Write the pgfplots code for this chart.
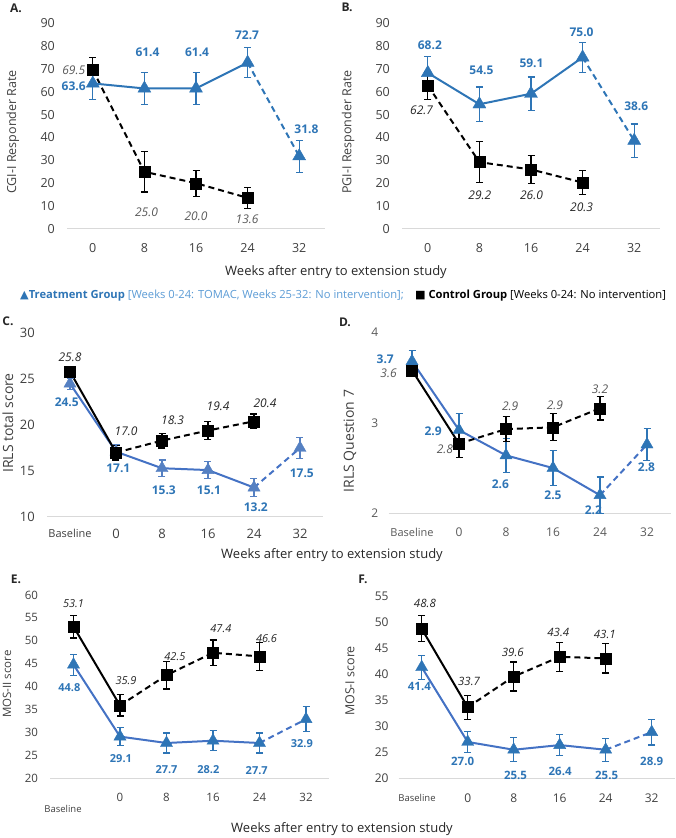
\documentclass[border=0pt]{standalone}
\usepackage{pgfplots}
\pgfplotsset{compat=1.18}
\usepackage{fontspec}
\setmainfont{Open Sans}
\newfontfamily\sym{DejaVu Sans}
\definecolor{tblue}{HTML}{2E75B6}
\definecolor{tline}{HTML}{4472C4}
\definecolor{cmark}{HTML}{5580C2}
\definecolor{lblue}{HTML}{5B9BD5}
\definecolor{tickc}{HTML}{404040}
\definecolor{cgray}{HTML}{595959}
\definecolor{axc}{HTML}{D9D9D9}
\definecolor{txt}{HTML}{262626}

\def\fT{\fontsize{12}{14}\selectfont}
\def\fL{\fontsize{12}{14}\selectfont}

\pgfplotsset{
  panel/.style={
    scale only axis, anchor=south west, clip=false,
    axis x line=bottom, axis y line=left,
    x axis line style={-, draw=axc, line width=1pt},
    y axis line style={draw=none},
    major tick length=0pt,
    tick style={draw=none},
    every tick label/.append style={inner sep=0pt, text=tickc, font=\fT},
    /pgf/number format/assume math mode=true,
  },
  tr/.style={tblue, line width=2pt},
  ct/.style={black, line width=2pt},
  dsh/.style={dash pattern=on 6pt off 4pt},
  tmarks/.style={only marks, mark=triangle*, mark size=7.5pt, color=tblue,
     error bars/y dir=both, error bars/y explicit,
     error bars/error mark=-,
     error bars/error bar style={line width=1.2pt},
     error bars/error mark options={rotate=90, mark size=3.5pt, line width=1.2pt}},
  cmarks/.style={only marks, mark=square*, mark size=5.5pt, color=black,
     error bars/y dir=both, error bars/y explicit,
     error bars/error mark=-,
     error bars/error bar style={line width=1.2pt},
     error bars/error mark options={rotate=90, mark size=3.5pt, line width=1.2pt}},
}
\tikzset{
  tlab/.style={text=tblue, font=\fL\bfseries, inner sep=0pt},
  clab/.style={text=cgray, font=\fL\itshape, inner sep=0pt},
  klab/.style={text=txt, font=\fL\itshape, inner sep=0pt},
}

\begin{document}
\begin{tikzpicture}[x=1pt,y=1pt]
\useasboundingbox (0pt,0pt) rectangle (675pt,838pt);

% ---------------- Panel A
\def\fT{\fontsize{12.5}{14}\selectfont}
\def\fL{\fontsize{12}{14}\selectfont}
\begin{axis}[panel, at={(67pt,609pt)}, width=258pt, height=206pt,
  xmin=-0.5, xmax=4.5, ymin=0, ymax=90, ytick={0,10,...,90},
  xtick={0,...,4}, xticklabels={0,8,16,24,32},
  yticklabel style={xshift=-12pt}, xticklabel style={yshift=-14.5pt}]
\addplot[ct,dsh] coordinates {(0,69.5)(1,25.0)(2,20.0)(3,13.6)};
\addplot[tr] coordinates {(0,63.6)(1,61.4)(2,61.4)(3,72.7)};
\addplot[tr,dsh] coordinates {(3,72.7)(4,31.8)};
\addplot[cmarks] coordinates {(0,69.5)+-(0,5.5) (1,25.0)+-(0,8.8) (2,20.0)+-(0,5.7) (3,13.6)+-(0,4.5)};
\addplot[tmarks] coordinates {(0,63.6)+-(0,7) (1,61.4)+-(0,7) (2,61.4)+-(0,7) (3,72.7)+-(0,6.5) (4,31.8)+-(0,7)};
\node[clab] at (axis cs:-0.37,69.2) {69.5};
\node[tlab] at (axis cs:-0.37,62.5) {63.6};
\node[tlab] at (axis cs:1.06,77.2) {61.4};
\node[tlab] at (axis cs:2.02,77.2) {61.4};
\node[tlab] at (axis cs:2.99,84.8) {72.7};
\node[tlab] at (axis cs:4.14,43.6) {31.8};
\node[clab] at (axis cs:1.04,7.3) {25.0};
\node[clab] at (axis cs:2.0,5.4) {20.0};
\node[clab] at (axis cs:2.99,4.4) {13.6};
\end{axis}

% ---------------- Panel B
\begin{axis}[panel, at={(402pt,609pt)}, width=258pt, height=206pt,
  xmin=-0.5, xmax=4.5, ymin=0, ymax=90, ytick={0,10,...,90},
  xtick={0,...,4}, xticklabels={0,8,16,24,32},
  yticklabel style={xshift=-12pt}, xticklabel style={yshift=-14.5pt}]
\addplot[tr] coordinates {(0,68.2)(1,54.5)(2,59.1)(3,75.0)};
\addplot[tr,dsh] coordinates {(3,75.0)(4,38.6)};
\addplot[ct,dsh] coordinates {(0,62.7)(1,29.2)(2,26.0)(3,20.3)};
\addplot[tmarks] coordinates {(0,68.2)+-(0,7) (1,54.5)+-(0,7.5) (2,59.1)+-(0,7.3) (3,75.0)+-(0,6.5) (4,38.6)+-(0,7.3)};
\addplot[cmarks] coordinates {(0,62.7)+-(0,6) (1,29.2)+-(0,9) (2,26.0)+-(0,6) (3,20.3)+-(0,5.3)};
\node[tlab] at (axis cs:0.04,80.4) {68.2};
\node[tlab] at (axis cs:1.04,69.2) {54.5};
\node[tlab] at (axis cs:2.01,72.4) {59.1};
\node[tlab] at (axis cs:2.98,85.8) {75.0};
\node[tlab] at (axis cs:4.04,53.7) {38.6};
\node[klab] at (axis cs:-0.12,52.0) {62.7};
\node[klab] at (axis cs:1.01,14.9) {29.2};
\node[klab] at (axis cs:2.01,14.9) {26.0};
\node[klab] at (axis cs:2.98,9.5) {20.3};
\end{axis}

% ---------------- Panel C
\def\fT{\fontsize{13}{15}\selectfont}
\def\fL{\fontsize{12}{14}\selectfont}
\begin{axis}[panel, at={(47pt,321pt)}, width=276pt, height=184pt,
  xmin=-0.5, xmax=5.5, ymin=10, ymax=30, ytick={10,15,...,30},
  xtick={0,...,5}, xticklabels={{\fontsize{11}{13}\selectfont Baseline},0,8,16,24,32},
  yticklabel style={xshift=-12pt}, xticklabel style={yshift=-11.5pt}]
\addplot[tline, line width=2pt] coordinates {(0,24.5)(1,17.1)(2,15.3)(3,15.1)(4,13.2)};
\addplot[tline, line width=2pt, dsh] coordinates {(4,13.2)(5,17.5)};
\addplot[ct] coordinates {(0,25.8)(1,17.0)};
\addplot[ct,dsh] coordinates {(1,17.0)(2,18.3)(3,19.4)(4,20.4)};
\addplot[tmarks, color=cmark, mark size=7pt] coordinates {(0,24.5)+-(0,0.6) (1,17.1)+-(0,0.8) (2,15.3)+-(0,0.9) (3,15.1)+-(0,0.9) (4,13.2)+-(0,1.0) (5,17.5)+-(0,1.1)};
\addplot[cmarks] coordinates {(0,25.8)+-(0,0.5) (1,17.0)+-(0,0.8) (2,18.3)+-(0,0.8) (3,19.4)+-(0,1.0) (4,20.4)+-(0,0.8)};
\node[klab] at (axis cs:0,27.4) {25.8};
\node[tlab] at (axis cs:-0.07,22.5) {24.5};
\node[klab] at (axis cs:1.22,19.35) {17.0};
\node[tlab] at (axis cs:1.05,15.3) {17.1};
\node[klab] at (axis cs:2.23,20.5) {18.3};
\node[tlab] at (axis cs:2.04,12.9) {15.3};
\node[klab] at (axis cs:3.22,22.0) {19.4};
\node[tlab] at (axis cs:3.02,12.9) {15.1};
\node[klab] at (axis cs:4.24,22.4) {20.4};
\node[tlab] at (axis cs:4.04,11.05) {13.2};
\node[tlab] at (axis cs:5.04,14.75) {17.5};
\end{axis}

% ---------------- Panel D
\def\fT{\fontsize{12}{14}\selectfont}
\def\fL{\fontsize{12}{14}\selectfont}
\begin{axis}[panel, at={(388.5pt,324.7pt)}, width=282pt, height=181pt,
  xmin=-0.5, xmax=5.5, ymin=2, ymax=4, ytick={2,3,4},
  xtick={0,...,5}, xticklabels={{\fontsize{11}{13}\selectfont Baseline},0,8,16,24,32},
  every tick label/.append style={text=cgray},
  yticklabel style={xshift=-10pt}, xticklabel style={yshift=-14.5pt}]
\addplot[tline, line width=2pt] coordinates {(0,3.68)(1,2.92)(2,2.64)(3,2.50)(4,2.20)};
\addplot[tline, line width=2pt, dsh] coordinates {(4,2.20)(5,2.76)};
\addplot[ct] coordinates {(0,3.58)(1,2.77)};
\addplot[ct,dsh] coordinates {(1,2.77)(2,2.93)(3,2.95)(4,3.16)};
\addplot[tmarks, mark size=7pt] coordinates {(0,3.68)+-(0,0.12) (1,2.92)+-(0,0.18) (2,2.64)+-(0,0.19) (3,2.50)+-(0,0.19) (4,2.20)+-(0,0.2) (5,2.76)+-(0,0.18)};
\addplot[cmarks] coordinates {(0,3.58)+-(0,0.05) (1,2.77)+-(0,0.15) (2,2.93)+-(0,0.14) (3,2.95)+-(0,0.15) (4,3.16)+-(0,0.13)};
\node[tlab] at (axis cs:-0.57,3.70) {3.7};
\node[clab] at (axis cs:-0.5,3.55) {3.6};
\node[tlab] at (axis cs:0.45,2.91) {2.9};
\node[clab] at (axis cs:0.70,2.71) {2.8};
\node[clab] at (axis cs:2.09,3.18) {2.9};
\node[tlab] at (axis cs:1.88,2.32) {2.6};
\node[clab] at (axis cs:3.04,3.19) {2.9};
\node[tlab] at (axis cs:3.0,2.2) {2.5};
\node[clab] at (axis cs:4.0,3.37) {3.2};
\node[tlab] at (axis cs:3.86,2.03) {2.2};
\node[tlab] at (axis cs:4.99,2.51) {2.8};
\end{axis}

% ---------------- Panel E
\def\fT{\fontsize{11.5}{13}\selectfont}
\def\fL{\fontsize{11}{13}\selectfont}
\begin{axis}[panel, at={(50.25pt,59.7pt)}, width=279pt, height=183.3pt,
  xmin=-0.5, xmax=5.5, ymin=20, ymax=60, ytick={20,25,...,60},
  xtick={1,...,5}, xticklabels={0,8,16,24,32},
  yticklabel style={xshift=-12pt}, xticklabel style={yshift=-15pt}]
\addplot[tline, line width=2pt] coordinates {(0,44.8)(1,29.1)(2,27.7)(3,28.2)(4,27.7)};
\addplot[tline, line width=2pt, dsh] coordinates {(4,27.7)(5,32.9)};
\addplot[ct] coordinates {(0,53.1)(1,35.9)};
\addplot[ct,dsh] coordinates {(1,35.9)(2,42.5)(3,47.4)(4,46.6)};
\addplot[tmarks, mark size=7pt] coordinates {(0,44.8)+-(0,2.3) (1,29.1)+-(0,2.0) (2,27.7)+-(0,2.2) (3,28.2)+-(0,2.2) (4,27.7)+-(0,2.2) (5,32.9)+-(0,2.7)};
\addplot[cmarks] coordinates {(0,53.1)+-(0,2.5) (1,35.9)+-(0,2.3) (2,42.5)+-(0,3) (3,47.4)+-(0,2.8) (4,46.6)+-(0,3)};
\node[klab] at (axis cs:0,58.2) {53.1};
\node[tlab] at (axis cs:-0.09,39.8) {44.8};
\node[klab] at (axis cs:1.13,41.4) {35.9};
\node[tlab] at (axis cs:1.02,24.4) {29.1};
\node[klab] at (axis cs:2.18,46.5) {42.5};
\node[tlab] at (axis cs:2.0,22.0) {27.7};
\node[klab] at (axis cs:3.17,52.7) {47.4};
\node[tlab] at (axis cs:2.9,22.0) {28.2};
\node[klab] at (axis cs:4.15,50.5) {46.6};
\node[tlab] at (axis cs:3.94,21.7) {27.7};
\node[tlab] at (axis cs:4.91,27.5) {32.9};
\end{axis}

% ---------------- Panel F
\def\fT{\fontsize{12}{14}\selectfont}
\def\fL{\fontsize{11.5}{13}\selectfont}
\begin{axis}[panel, at={(398.7pt,59.7pt)}, width=276pt, height=181.7pt,
  xmin=-0.5, xmax=5.5, ymin=20, ymax=55, ytick={20,25,...,55},
  xtick={1,...,5}, xticklabels={0,8,16,24,32},
  yticklabel style={xshift=-10pt}, xticklabel style={yshift=-15pt}]
\addplot[tline, line width=2pt] coordinates {(0,41.4)(1,27.0)(2,25.5)(3,26.4)(4,25.5)};
\addplot[tline, line width=2pt, dsh] coordinates {(4,25.5)(5,28.9)};
\addplot[ct] coordinates {(0,48.8)(1,33.7)};
\addplot[ct,dsh] coordinates {(1,33.7)(2,39.6)(3,43.4)(4,43.1)};
\addplot[tmarks, mark size=7pt] coordinates {(0,41.4)+-(0,2.3) (1,27.0)+-(0,2.0) (2,25.5)+-(0,2.3) (3,26.4)+-(0,2.0) (4,25.5)+-(0,2.2) (5,28.9)+-(0,2.5)};
\addplot[cmarks] coordinates {(0,48.8)+-(0,2.5) (1,33.7)+-(0,2.3) (2,39.6)+-(0,2.8) (3,43.4)+-(0,2.8) (4,43.1)+-(0,2.8)};
\node[klab] at (axis cs:0.07,53.6) {48.8};
\node[tlab] at (axis cs:-0.05,37.6) {41.4};
\node[klab] at (axis cs:1.03,38.6) {33.7};
\node[tlab] at (axis cs:0.89,23.2) {27.0};
\node[klab] at (axis cs:1.98,44.3) {39.6};
\node[tlab] at (axis cs:2.04,20.6) {25.5};
\node[klab] at (axis cs:2.97,48.1) {43.4};
\node[tlab] at (axis cs:3.01,21.3) {26.4};
\node[klab] at (axis cs:3.98,47.7) {43.1};
\node[tlab] at (axis cs:4.02,20.6) {25.5};
\node[tlab] at (axis cs:5.0,23.2) {28.9};
\end{axis}

% ---------------- free text
\tikzset{ylab/.style={rotate=90, text=tickc, inner sep=0pt}}
\node[ylab, font=\fontsize{12.5}{14}\selectfont] at (13pt,706pt) {CGI-I Responder Rate};
\node[ylab, font=\fontsize{12.5}{14}\selectfont] at (348pt,706pt) {PGI-I Responder Rate};
\node[ylab, font=\fontsize{14}{16}\selectfont] at (8pt,415pt) {IRLS total score};
\node[ylab, font=\fontsize{14}{16}\selectfont] at (350pt,397pt) {IRLS Question 7};
\node[ylab, font=\fontsize{11.5}{13}\selectfont] at (7pt,154pt) {MOS-II score};
\node[ylab, font=\fontsize{12.5}{14}\selectfont] at (350pt,157pt) {MOS-I score};

\tikzset{plet/.style={font=\fontsize{12}{14}\selectfont\bfseries, text=txt, inner sep=0pt}}
\node[plet] at (16pt,830pt) {A.};
\node[plet] at (347pt,831pt) {B.};
\node[plet] at (8pt,517pt) {C.};
\node[plet] at (345pt,516pt) {D.};
\node[plet] at (16pt,259pt) {E.};
\node[plet] at (363pt,259pt) {F.};

\tikzset{wk/.style={font=\fontsize{13}{15}\selectfont, text=txt, inner sep=0pt}}
\node[wk] at (336pt,566pt) {Weeks after entry to extension study};
\node[wk] at (332pt,283pt) {Weeks after entry to extension study};
\node[wk] at (342pt,9pt) {Weeks after entry to extension study};

\node[font=\fontsize{9.5}{11}\selectfont, text=tickc, inner sep=0pt] at (63pt,29pt) {Baseline};
\node[font=\fontsize{9.5}{11}\selectfont, text=tickc, inner sep=0pt] at (417pt,40pt) {Baseline};

\node[anchor=west, inner sep=0pt, font=\fontsize{11.2}{13}\selectfont] at (20pt,542pt)
 {{\sym\color{tblue}▲}\textcolor{tblue}{\bfseries Treatment Group} \textcolor{lblue}{[Weeks 0-24: TOMAC, Weeks 25-32: No intervention];}\quad{\sym ■} \textbf{Control Group} [Weeks 0-24: No intervention]};
\end{tikzpicture}
\end{document}
